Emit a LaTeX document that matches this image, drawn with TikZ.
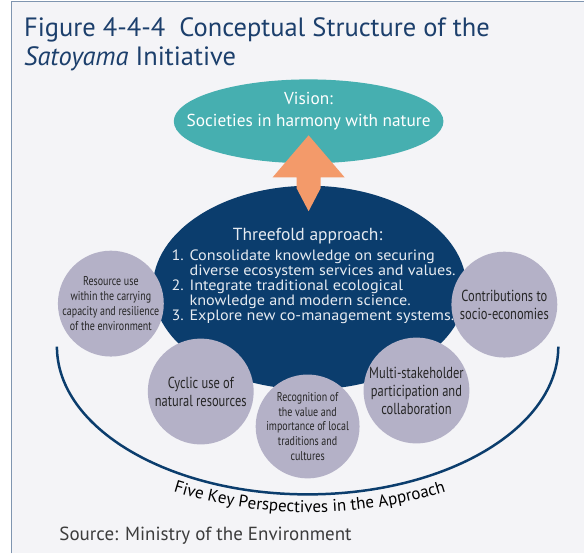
\documentclass[tikz,border=0pt]{standalone}
\usepackage{fontspec}
\setmainfont{PT Sans}
\newfontfamily\narrowfont[FakeStretch=0.78]{PT Sans}
\newfontfamily\widefont[FakeStretch=1.08]{PT Sans}
\usetikzlibrary{shapes.geometric,positioning,calc,decorations.text}
\definecolor{Paper}{HTML}{F4F4F7}
\definecolor{Frame}{HTML}{7F95B0}
\definecolor{Navy}{HTML}{0B3D6D}
\definecolor{Heading}{HTML}{1C3F6C}
\definecolor{Teal}{HTML}{46AFB0}
\definecolor{Peach}{HTML}{F39A6A}
\definecolor{Lilac}{HTML}{B4B1C7}
\definecolor{Ink}{HTML}{262626}
\definecolor{Pale}{HTML}{E6EBF1}

\tikzset{
  perspective/.style={circle,fill=Lilac,minimum size=106pt,inner sep=-16pt,
    align=center,text=Ink},
  bigtext/.style={font=\narrowfont\fontsize{16}{18}\selectfont},
  smalltext/.style={font=\narrowfont\fontsize{12.8}{14.8}\selectfont},
}

\begin{document}
\begin{tikzpicture}[x=1pt,y=1pt]
  % page, panel and its frame
  \fill[white] (0,0) rectangle (585,-554);
  \fill[Paper] (11,-1.5) rectangle (585,-554);
  \draw[Frame,line width=1.5pt] (11.5,-554) -- (11.5,-1.5) -- (585,-1.5);
  \useasboundingbox (0,0) rectangle (585,-554);

  \node[anchor=north west,align=left,inner sep=0pt,text=Heading,
    font=\fontsize{26.5}{30}\selectfont] (title) at (24,-17)
    {Figure 4-4-4\ \ Conceptual Structure of the\\\textit{Satoyama} Initiative};

  % vision and threefold approach
  \node[ellipse,fill=Teal,minimum width=270pt,minimum height=84pt] (vision) at (309,-121.5) {};
  \node[align=center,text=white,font=\fontsize{17.3}{22}\selectfont] (visiontext)
    at ([yshift=10]vision.center) {Vision:\\Societies in harmony with nature};
  \node[ellipse,fill=Navy,minimum width=314pt,minimum height=204pt] (approach) at (310,-288) {};

  \fill[Peach] ($(vision.center)+(0,-14)$) -- ++(36,-42) -- ++(-24,0) -- ++(0,-11)
    -- ++(-12,-23) -- ++(-12,23) -- ++(0,11) -- ++(-24,0) -- cycle;

  \node[text=Pale,font=\fontsize{17.5}{20}\selectfont] (threefold) at (308,-236) {Threefold approach:};
  \node[text=Pale,inner sep=0pt,font=\widefont\fontsize{15}{14.8}\selectfont] (steps) at (314,-288)
    {\begin{tabular}{@{}l@{ }l@{}}
      1. & Consolidate knowledge on securing\\
         & diverse ecosystem services and values.\\
      2. & Integrate traditional ecological\\
         & knowledge and modern science.\\
      3. & Explore new co-management systems.
    \end{tabular}};

  % five key perspectives
  \node[perspective,smalltext] (resource) at (111,-304)
    {Resource use\\within the carrying\\capacity and resilience\\of the environment};
  \node[perspective,bigtext] (economy) at (505,-305) {Contributions to\\socio-economies};
  \node[perspective,bigtext] (cyclic) at (201,-392) {Cyclic use of\\natural resources};
  \node[perspective,smalltext,minimum size=104pt] (tradition) at (308,-427)
    {Recognition of\\the value and\\importance of local\\traditions and\\cultures};
  \node[perspective,bigtext] (stakeholder) at (417,-391)
    {Multi-stakeholder\\participation and\\collaboration};

  \draw[Navy,line width=2.5pt] (308,-347) ++(180:251 and 148)
    arc[start angle=180,end angle=360,x radius=251,y radius=148];
  \path[decorate,decoration={text along path,text align=center,
      text={|\fontsize{17}{17}\selectfont|Five Key Perspectives in the Approach}}]
    (310,-53) ++(248:460) arc[start angle=248,end angle=292,radius=460];

  \node[anchor=base west,text=Ink!90,font=\fontsize{19}{22}\selectfont] (source)
    at (56,-541) {Source: Ministry of the Environment};
\end{tikzpicture}
\end{document}
